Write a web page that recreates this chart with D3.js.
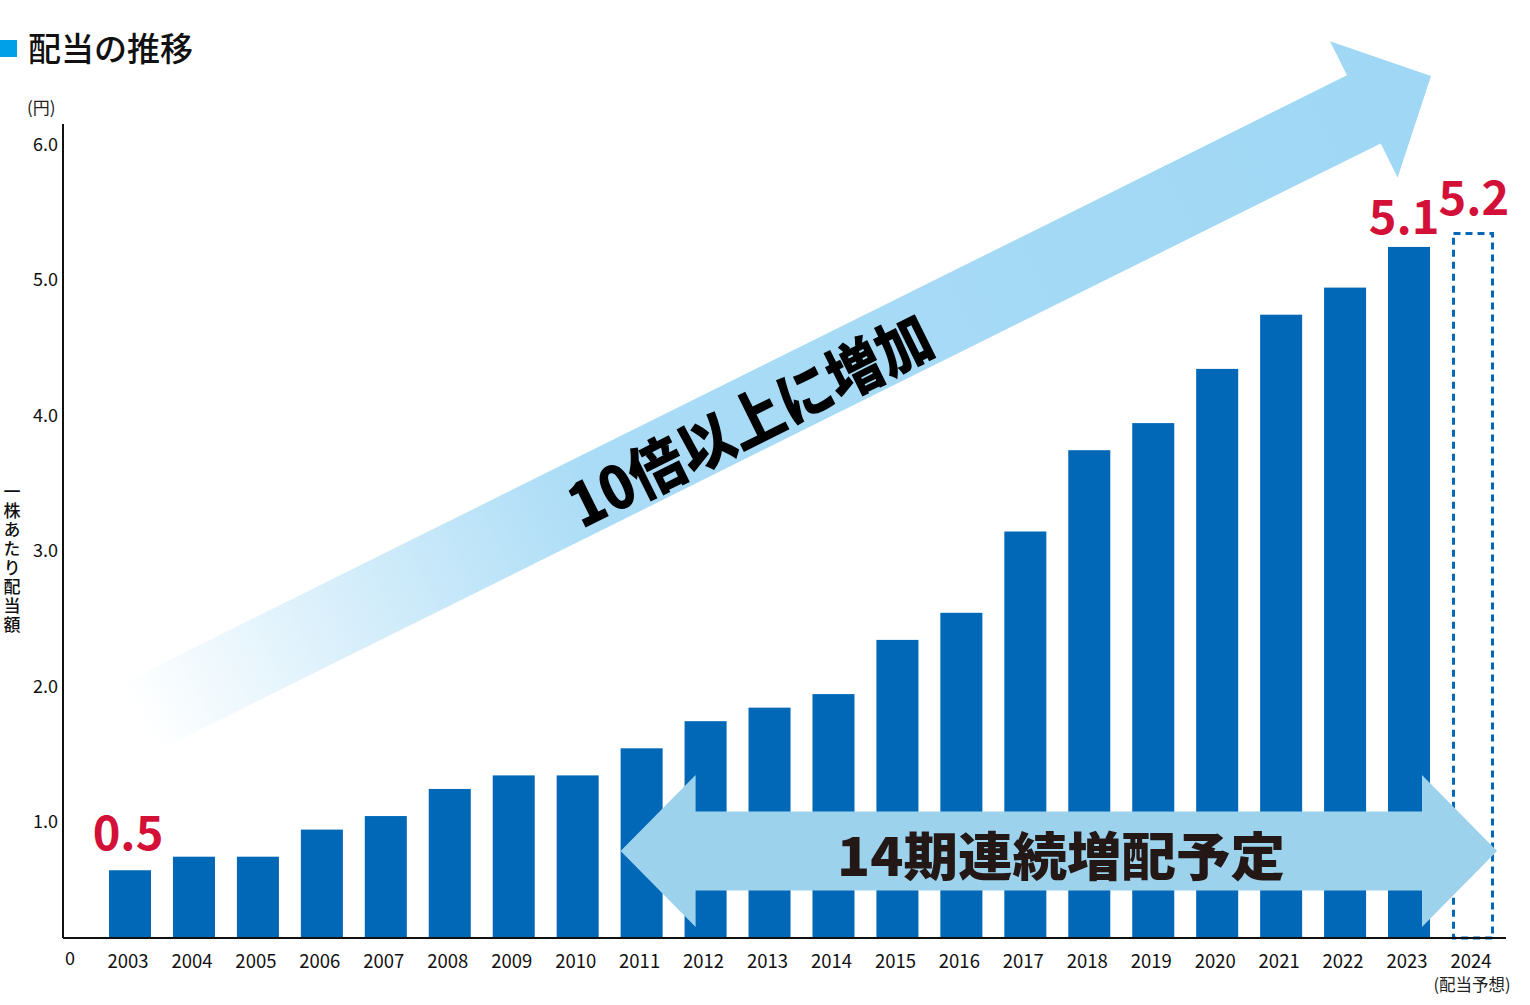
<!DOCTYPE html>
<html>
<head>
<meta charset="utf-8">
<script src="https://cdn.jsdelivr.net/npm/d3@7"></script>
<style>
  body { margin: 0; background: #fff; }
  svg { display: block; }
  text { font-family: "Noto Sans CJK JP", "Noto Sans", sans-serif; }
</style>
</head>
<body>
<svg id="chart" width="1530" height="1005"></svg>
<script>
const width = 1530;
const height = 1005;

// data
const years = ["2003","2004","2005","2006","2007","2008","2009","2010","2011","2012","2013",
               "2014","2015","2016","2017","2018","2019","2020","2021","2022","2023","2024"];
const dividends = [0.5,0.6,0.6,0.8,0.9,1.1,1.2,1.2,1.4,1.6,1.7,1.8,2.2,2.4,3.0,3.6,3.8,4.2,4.6,4.8,5.1,5.2];
const forecastYear = "2024";
const yTicks = [1, 2, 3, 4, 5, 6];
const calloutYears = ["2003", "2023", "2024"];

const barColor = "#0068b7";
const red = "#d31038";

const svg = d3.select("#chart");

const x = d3.scaleBand().domain(years).range([109, 1494]).paddingInner(0.343);
const y = d3.scaleLinear().domain([0, 6]).range([938, 125]);

// title
svg.append("rect").attr("x", 0).attr("y", 40).attr("width", 17).attr("height", 17).attr("fill", "#00a0e9");
svg.append("text").attr("x", 28).attr("y", 61)
    .attr("font-size", 33).attr("font-weight", 500).attr("fill", "#111")
    .text("配当の推移");

// unit + vertical axis title
svg.append("text").attr("x", 27).attr("y", 114).attr("font-size", 17).attr("fill", "#222").text("(円)");
svg.append("text")
    .attr("x", 12).attr("y", 483)
    .attr("font-size", 17).attr("font-weight", 500).attr("fill", "#111")
    .attr("letter-spacing", 2)
    .style("writing-mode", "vertical-rl")
    .style("text-orientation", "upright")
    .text("一株あたり配当額");

// bars
let bars = dividends.map(function(v, i){ return {year: years[i], value: v}; });

svg.append("g").selectAll("rect")
    .data(bars.filter(function(d){ return d.year !== forecastYear; }))
    .enter()
    .append("rect")
        .attr("x", function(d){ return x(d.year); })
        .attr("y", function(d){ return y(d.value); })
        .attr("width", x.bandwidth())
        .attr("height", function(d){ return y(0) - y(d.value); })
        .attr("fill", barColor);

// forecast bar (dashed outline)
let fc = bars.filter(function(d){ return d.year === forecastYear; })[0];
svg.append("rect")
    .attr("x", x(fc.year) + 1.5)
    .attr("y", y(fc.value))
    .attr("width", x.bandwidth() - 3)
    .attr("height", y(0) - y(fc.value))
    .attr("fill", "none")
    .attr("stroke", barColor)
    .attr("stroke-width", 3)
    .attr("stroke-dasharray", "7,5");

// big diagonal arrow
const defs = svg.append("defs");
const grad = defs.append("linearGradient").attr("id", "fadeBlue")
    .attr("x1", "0%").attr("x2", "100%").attr("y1", "0%").attr("y2", "0%");
grad.append("stop").attr("offset", "0%").attr("stop-color", "#a2d9f5").attr("stop-opacity", 0);
grad.append("stop").attr("offset", "35%").attr("stop-color", "#a6daf6").attr("stop-opacity", 0.95);
grad.append("stop").attr("offset", "100%").attr("stop-color", "#9fd7f4").attr("stop-opacity", 1);

const startX = x("2003") + x.bandwidth() / 2 + 10;
const startY = 717;
const tipX = 1431, tipY = 76;
const ang = Math.atan2(tipY - startY, tipX - startX) * 180 / Math.PI;
const len = Math.hypot(tipX - startX, tipY - startY);
const headLen = 75, shaftHalf = 38, headHalf = 76;

const bigArrow = svg.append("g")
    .attr("transform", `translate(${startX},${startY}) rotate(${ang})`);
bigArrow.append("path")
    .attr("d", `M0,${-shaftHalf} L${len - headLen},${-shaftHalf} L${len - headLen},${-headHalf} L${len},0 ` +
               `L${len - headLen},${headHalf} L${len - headLen},${shaftHalf} L0,${shaftHalf} Z`)
    .attr("fill", "url(#fadeBlue)");
bigArrow.append("text")
    .attr("x", 678).attr("y", 2)
    .attr("text-anchor", "middle").attr("dominant-baseline", "central")
    .attr("font-size", 60).attr("font-weight", 900).attr("fill", "#000")
    .attr("textLength", 398).attr("lengthAdjust", "spacingAndGlyphs")
    .text("10倍以上に増加");

// axes
svg.append("line").attr("x1", 63).attr("x2", 63).attr("y1", y(6) - 1).attr("y2", y(0))
    .attr("stroke", "#111").attr("stroke-width", 2);

svg.append("g").selectAll("text")
    .data(yTicks)
    .enter()
    .append("text")
        .attr("x", 58)
        .attr("y", function(d){ return y(d) + 17.5; })
        .attr("text-anchor", "end").attr("dominant-baseline", "central")
        .attr("font-family", "'Noto Sans', sans-serif")
        .attr("font-size", 18).attr("fill", "#111")
        .text(function(d){ return d3.format(".1f")(d); });

svg.append("text").attr("x", 65).attr("y", y(0) + 18.5)
    .attr("dominant-baseline", "central")
    .attr("font-family", "'Noto Sans', sans-serif")
    .attr("font-size", 18).attr("fill", "#111").text("0");

svg.append("g").selectAll("text")
    .data(years)
    .enter()
    .append("text")
        .attr("x", function(d){ return x(d) + x.bandwidth() / 2 - 2; })
        .attr("y", 960)
        .attr("text-anchor", "middle").attr("dominant-baseline", "central")
        .attr("font-family", "'Noto Sans', sans-serif")
        .attr("font-size", 18.5).attr("fill", "#111")
        .text(function(d){ return d; });

svg.append("text")
    .attr("x", x(forecastYear) + x.bandwidth() / 2 - 1).attr("y", 984)
    .attr("text-anchor", "middle").attr("dominant-baseline", "central")
    .attr("font-size", 16.5).attr("fill", "#222")
    .text("(配当予想)");

// double arrow
const dblLeft = x("2011");
const dblRight = x(forecastYear) + x.bandwidth() + 3;
const dblY = 851;
const dblHead = 75, dblShaft = 39.5, dblHeadHalf = 76;
svg.append("path")
    .attr("d", `M${dblLeft},${dblY} L${dblLeft + dblHead},${dblY - dblHeadHalf} L${dblLeft + dblHead},${dblY - dblShaft} ` +
               `L${dblRight - dblHead},${dblY - dblShaft} L${dblRight - dblHead},${dblY - dblHeadHalf} L${dblRight},${dblY} ` +
               `L${dblRight - dblHead},${dblY + dblHeadHalf} L${dblRight - dblHead},${dblY + dblShaft} ` +
               `L${dblLeft + dblHead},${dblY + dblShaft} L${dblLeft + dblHead},${dblY + dblHeadHalf} Z`)
    .attr("fill", "#9dd2ec");
svg.append("text")
    .attr("x", 1061).attr("y", 853)
    .attr("text-anchor", "middle").attr("dominant-baseline", "central")
    .attr("font-size", 52).attr("font-weight", 900).attr("fill", "#231815")
    .attr("textLength", 448).attr("lengthAdjust", "spacingAndGlyphs")
    .text("14期連続増配予定");

svg.append("line").attr("x1", 63).attr("x2", 1506).attr("y1", y(0)).attr("y2", y(0))
    .attr("stroke", "#111").attr("stroke-width", 2);

// red callouts
const callOffsets = {"2003": [-2, -20], "2023": [-5, -13], "2024": [1, -18]};
svg.append("g").selectAll("text")
    .data(bars.filter(function(d){ return calloutYears.indexOf(d.year) >= 0; }))
    .enter()
    .append("text")
        .attr("x", function(d){ return x(d.year) + x.bandwidth() / 2 + callOffsets[d.year][0]; })
        .attr("y", function(d){ return y(d.value) + callOffsets[d.year][1]; })
        .attr("text-anchor", "middle")
        .attr("font-family", "'Noto Sans', sans-serif")
        .attr("font-size", 47).attr("font-weight", 700).attr("fill", red)
        .text(function(d){ return d3.format(".1f")(d.value); });
</script>
</body>
</html>
